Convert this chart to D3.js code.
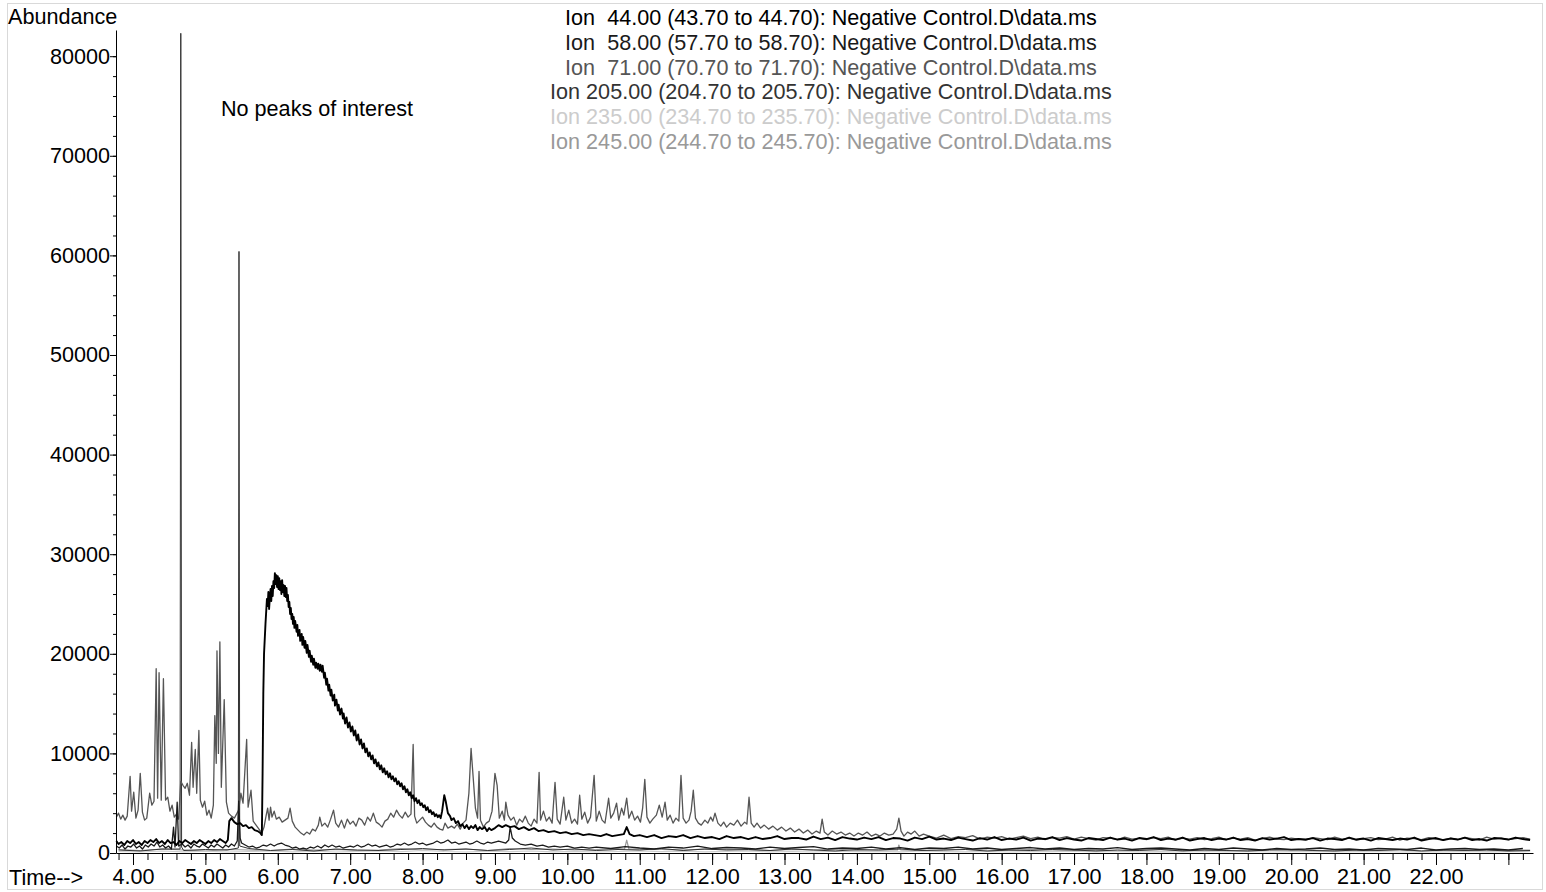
<!DOCTYPE html>
<html>
<head>
<meta charset="utf-8">
<script src="https://cdn.jsdelivr.net/npm/d3@7"></script>
<style>
  body { margin: 0; background: #fff; }
  text { font-family: "Liberation Sans", Arial, sans-serif; fill: #000; }
</style>
</head>
<body>
<svg id="chart" width="1546" height="892"></svg>
<script>
// ---- data ----
const ionLabels = [
  'Ion  44.00 (43.70 to 44.70): Negative Control.D\\data.ms',
  'Ion  58.00 (57.70 to 58.70): Negative Control.D\\data.ms',
  'Ion  71.00 (70.70 to 71.70): Negative Control.D\\data.ms',
  'Ion 205.00 (204.70 to 205.70): Negative Control.D\\data.ms',
  'Ion 235.00 (234.70 to 235.70): Negative Control.D\\data.ms',
  'Ion 245.00 (244.70 to 245.70): Negative Control.D\\data.ms'
]
const ionColors = ['#000000', '#1a1a1a', '#555555', '#333333', '#cccccc', '#999999']

const timeTicks = [4, 5, 6, 7, 8, 9, 10, 11, 12, 13, 14, 15, 16, 17, 18, 19, 20, 21, 22, 23]
const abundanceTicks = [0, 10000, 20000, 30000, 40000, 50000, 60000, 70000, 80000]

// ion 44: solvent hump
const ion44Head = [
  [3.77,1200],[3.80,900],[3.84,1100],[3.88,800],[3.92,1200],[3.96,1000],[4.00,1300],[4.04,900],
  [4.08,1100],[4.12,800],[4.16,1200],[4.20,1000],[4.24,1300],[4.28,1100],[4.32,1400],[4.36,1000],
  [4.40,1200],[4.44,900],[4.48,1300],[4.52,1000],[4.56,1100],[4.60,800],[4.64,1200],[4.68,1000],
  [4.72,1300],[4.76,1100],[4.80,900],[4.84,1200],[4.88,1000],[4.92,1300],[4.96,1100],[5.00,900],
  [5.04,1200],[5.08,1000],[5.12,1300],[5.16,1100],[5.20,1400],[5.24,1200],[5.28,1000],[5.31,1300],
  [5.33,3200],[5.36,3500],[5.40,3100],[5.44,2900],[5.48,3000],[5.52,2700],[5.56,2800],[5.60,2500],
  [5.64,2600],[5.68,2300],[5.72,2200],[5.76,2000],[5.78,1800],[5.79,8000],[5.80,16000],[5.81,20000],
  [5.83,23000],[5.85,25500],[5.86,24800],[5.87,26200],[5.88,24500],[5.89,25600],[5.90,26500],[5.91,25300],
  [5.92,26800],[5.93,25800],[5.94,27300],[5.95,26600],[5.96,28100],[5.97,27000],[5.98,27900],[5.99,26700],
  [6.00,27800],[6.01,26500],[6.02,27600],[6.03,26400],[6.04,27300],[6.05,26000],[6.06,27400],[6.07,26200],
  [6.08,26900],[6.09,25800],[6.10,26800],[6.11,25700],[6.12,26600],[6.13,25300],[6.14,25900],[6.15,24700],
  [6.16,25200],[6.17,24000],[6.18,24600],[6.19,23500],[6.20,24000],[6.21,23000],[6.22,23700],[6.23,22600],
  [6.24,23300],[6.26,22200],[6.27,22900],[6.28,21800],[6.30,22400],[6.31,21300],[6.33,22000],[6.34,20900],
  [6.35,21700],[6.37,20600],[6.38,21300],[6.40,20100],[6.41,20900],[6.43,19700],[6.44,20300],[6.46,19200],
  [6.47,19800],[6.49,18900],[6.50,19500],[6.52,18600],[6.53,19100],[6.55,18500],[6.56,19000],[6.58,18300],
  [6.59,18900],[6.61,18200],[6.62,18800],[6.64,17600],[6.65,18100],[6.67,16900],[6.68,17500],[6.70,16300],
  [6.71,16900],[6.73,15800],[6.74,16400],[6.76,15300],[6.78,15900],[6.79,14800],[6.81,15400],[6.83,14300],
  [6.84,14900],[6.86,13900],[6.88,14500],[6.90,13500],[6.91,14000],[6.93,13000],[6.95,13600],[6.97,12600],
  [6.99,13100],[7.01,12200],[7.03,12700],[7.05,11800],[7.07,12300],[7.09,11300],[7.11,11900],[7.13,10900],
  [7.15,11400],[7.17,10500],[7.19,11000],[7.21,10100],[7.23,10500],[7.25,9700],[7.27,10100],[7.29,9400],
  [7.31,9800],[7.33,9000],[7.35,9400],[7.37,8700],[7.39,9100],[7.41,8400],[7.43,8800],[7.45,8100],
  [7.47,8500],[7.49,7900],[7.51,8200],[7.53,7600],[7.55,8000],[7.57,7400],[7.59,7700],[7.61,7200],
  [7.63,7500],[7.65,6900],[7.67,7200],[7.69,6700],[7.71,7000],[7.73,6400],[7.75,6700],[7.77,6100],
  [7.79,6400],[7.81,5800],[7.83,6100],[7.85,5500],[7.87,5800],[7.89,5200],[7.91,5500],[7.93,5000],
  [7.95,5300],[7.97,4800],[7.99,5000],[8.01,4600],[8.03,4800],[8.05,4300],[8.07,4600],[8.09,4100],
  [8.11,4300],[8.13,3900],[8.15,4100],[8.17,3700],[8.19,3900],[8.21,3600],[8.23,3800],[8.25,3500],
  [8.27,4200],[8.30,5800],[8.32,5200],[8.35,4000],[8.38,3700],[8.40,3300],[8.43,3500],[8.46,3000],
  [8.49,3200],[8.52,2700],[8.55,2900],[8.58,2500],[8.61,2800],[8.64,2400],[8.67,2700],[8.70,2500],
  [8.73,2800],[8.76,2300],[8.79,2600],[8.82,2400],[8.86,2600],[8.89,2200],[8.92,2500],[8.95,2300],
  [9.00,2500],[9.05,2800],[9.10,2600],[9.15,2800],[9.21,2600],[9.27,2700],[9.33,2400],[9.40,2600],
  [9.47,2300],[9.54,2500],[9.60,2200],[9.67,2300],[9.74,2100],[9.82,2200],[9.90,2000],[9.98,2100],
  [10.06,1900],[10.14,2000],[10.22,1800],[10.30,1900],[10.38,1800],[10.46,1700],[10.54,1900],[10.62,1700],
  [10.70,1800],[10.78,1900],[10.82,2600],[10.86,1900],[10.92,1700],[11.00,1800],[11.10,1600],[11.20,1800],
  [11.30,1500],[11.40,1700],[11.50,1600],[11.60,1800],[11.70,1500],[11.80,1700],[11.90,1500],[12.00,1600],
  [12.10,1400],[12.20,1700],[12.30,1500],[12.40,1600],[12.50,1400],[12.60,1600],[12.70,1400],[12.80,1500],
  [12.90,1700],[13.00,1400],[13.10,1500]
]
const ion44TailStart = 13.2
const ion44Tail = [
  1500,1350,1650,1400,1550,1300,1600,1450,1350,1550,
  1400,1600,1300,1500,1450,1250,1550,1400,1650,1350,
  1450,1300,1550,1400,1250,1500,1350,1600,1300,1450,
  1350,1550,1250,1450,1400,1600,1300,1500,1350,1250,
  1500,1400,1300,1550,1350,1450,1250,1500,1400,1600,
  1300,1450,1350,1550,1250,1400,1500,1300,1450,1350,
  1550,1300,1400,1250,1500,1350,1450,1600,1300,1400,
  1350,1500,1250,1450,1400,1300,1550,1350,1450,1250,
  1500,1400,1300,1450,1350,1550,1250,1400,1500,1300,
  1450,1350,1550,1300,1400,1250,1500,1450,1350,1550,
  1400,1300
]

// ion 58: low dark baseline
const ion58Head = [
  [3.77,700],[3.81,500],[3.85,800],[3.89,400],[3.93,700],[3.97,600],[4.01,900],[4.05,500],
  [4.09,700],[4.13,400],[4.17,800],[4.21,600],[4.25,900],[4.29,700],[4.33,1100],[4.37,600],
  [4.41,800],[4.45,500],[4.49,700],[4.53,400],[4.56,2600],[4.58,600],[4.61,5100],[4.63,700],
  [4.68,900],[4.72,600],[4.76,800],[4.80,500],[4.84,900],[4.88,700],[4.92,600],[4.96,900],
  [5.00,700],[5.04,500],[5.08,800],[5.12,600],[5.16,900],[5.20,700],[5.24,500],[5.28,800],
  [5.32,600],[5.36,900],[5.40,700],[5.44,1200],[5.46,5200],[5.48,1500],[5.50,1000],[5.55,800],
  [5.60,600],[5.65,700],[5.70,500],[5.75,600],[5.80,800],[5.85,700],[5.90,900],[5.95,700],
  [6.00,900],[6.05,1000],[6.10,800],[6.15,700],[6.20,500],[6.25,600],[6.30,400],[6.35,500],
  [6.40,400],[6.45,600],[6.50,500],[6.55,700],[6.60,500],[6.65,800],[6.70,600],[6.75,800],
  [6.80,600],[6.85,700],[6.90,500],[6.95,600],[7.00,700],[7.05,600],[7.10,800],[7.15,600],
  [7.20,700],[7.25,900],[7.30,700],[7.35,800],[7.40,600],[7.45,700],[7.50,800],[7.55,600],
  [7.60,700],[7.65,900],[7.70,800],[7.75,1000],[7.80,800],[7.85,900],[7.90,1100],[7.95,900],
  [8.00,1000],[8.05,800],[8.10,900],[8.15,1000],[8.20,1200],[8.25,1000],[8.30,1100],[8.35,1300],
  [8.40,1000],[8.45,1100],[8.50,900],[8.55,1000],[8.60,1100],[8.65,900],[8.70,1000],[8.75,1200],
  [8.80,1000],[8.85,900],[8.90,1100],[8.95,1000],[9.00,1100],[9.05,1200],[9.10,1100],[9.15,1000],
  [9.19,1300],[9.21,2600],[9.24,1500],[9.28,1200],[9.35,900],[9.42,800],[9.50,900],[9.58,700],
  [9.66,800],[9.74,600],[9.82,700],[9.90,600],[10.00,700],[10.10,500],[10.20,600],[10.30,500]
]
const ion58TailStart = 10.4
const ion58Tail = [
  600,450,650,500,400,600,500,700,450,550,
  500,400,600,450,550,650,400,500,450,600,
  400,550,350,500,450,600,400,500,350,450,
  550,400,500,350,450,400,550,350,450,500,
  400,300,450,350,500,400,300,450,350,400,
  500,350,400,300,450,400,350,500,300,400,
  450,350,400,300,450
]

// ion 71: grey trace with most of the small peaks
const ion71Head = [
  [3.77,3600],[3.80,4000],[3.83,3400],[3.86,3800],[3.89,3300],[3.92,3700],[3.96,7700],[3.98,4200],
  [4.01,6100],[4.04,3500],[4.07,4300],[4.10,8000],[4.13,4100],[4.16,3300],[4.19,3500],[4.23,6000],
  [4.26,4800],[4.29,5200],[4.32,18500],[4.34,5500],[4.36,18100],[4.39,5300],[4.42,17500],[4.45,5300],
  [4.48,5600],[4.51,4200],[4.54,4800],[4.57,3600],[4.60,3900],[4.63,3400],[4.66,7200],[4.69,6800],
  [4.72,6500],[4.75,7000],[4.78,5800],[4.81,11100],[4.83,6600],[4.86,10400],[4.88,6000],[4.91,12300],
  [4.93,5300],[4.96,4600],[4.99,5200],[5.02,3800],[5.05,4300],[5.08,3500],[5.11,4800],[5.13,13800],
  [5.15,9000],[5.16,20300],[5.18,10000],[5.20,21200],[5.22,6600],[5.26,15400],[5.29,5100],[5.32,4000],
  [5.36,3700],[5.40,3500],[5.43,3900],[5.46,4300],[5.49,6000],[5.52,5000],[5.57,11400],[5.59,4600],
  [5.63,6300],[5.66,3200],[5.69,2900],[5.72,2600],[5.75,2300],[5.78,2000],[5.81,2600],[5.84,3800],
  [5.86,4500],[5.88,3300],[5.90,4600],[5.92,3600],[5.95,4200],[5.98,3400],[6.02,3600],[6.06,3100],
  [6.10,3300],[6.14,3500],[6.17,4500],[6.20,3200],[6.24,2600],[6.28,2300],[6.32,2000],[6.36,1800],
  [6.40,2100],[6.44,1900],[6.48,2400],[6.52,2200],[6.56,2800],[6.58,3600],[6.61,2700],[6.65,3000],
  [6.69,2600],[6.73,3400],[6.77,4300],[6.80,3000],[6.84,2600],[6.88,3300],[6.92,2500],[6.96,3400],
  [7.00,2900],[7.04,3200],[7.08,2700],[7.12,3500],[7.16,3300],[7.20,2800],[7.24,3600],[7.28,3200],
  [7.32,4000],[7.36,3100],[7.40,2900],[7.44,2600],[7.48,3200],[7.52,3400],[7.56,4000],[7.60,3600],
  [7.64,4300],[7.68,3800],[7.72,3500],[7.76,4100],[7.80,3600],[7.84,3900],[7.87,10900],[7.89,3700],
  [7.92,3000],[7.96,3300],[8.00,3600],[8.04,3100],[8.08,2800],[8.12,2600],[8.16,3000],[8.20,2600],
  [8.24,2400],[8.28,2300],[8.31,3000],[8.35,2500],[8.40,2700],[8.44,2500],[8.48,2900],[8.52,2400],
  [8.56,3000],[8.60,3300],[8.64,6000],[8.67,10500],[8.70,7500],[8.73,4500],[8.76,3500],[8.78,8200],
  [8.80,3300],[8.84,2600],[8.88,3000],[8.92,3200],[8.96,4200],[9.00,8000],[9.03,6800],[9.06,3500],
  [9.10,4200],[9.13,3300],[9.15,5100],[9.18,3800],[9.22,3300],[9.26,3600],[9.30,2800],[9.34,3400],
  [9.38,3100],[9.42,3700],[9.46,3000],[9.50,2700],[9.54,3400],[9.58,3000],[9.61,8100],[9.63,3300],
  [9.67,4200],[9.71,3200],[9.75,3600],[9.79,3000],[9.83,7100],[9.86,3400],[9.90,2900],[9.95,5600],
  [9.98,3300],[10.02,4300],[10.06,3000],[10.10,3400],[10.14,2900],[10.17,5800],[10.20,3400],[10.24,4100],
  [10.28,3000],[10.32,3600],[10.37,7800],[10.40,3200],[10.44,4200],[10.48,3300],[10.52,3000],[10.57,5500],
  [10.60,3500],[10.64,4000],[10.68,5000],[10.71,3300],[10.75,4500],[10.78,3800],[10.82,5500],[10.85,3500],
  [10.89,4200],[10.93,3300],[10.97,3700],[11.01,3100],[11.04,4500],[11.07,7400],[11.10,3600],[11.14,3000],
  [11.18,3400],[11.23,3800],[11.27,4800],[11.31,3600],[11.35,5100],[11.38,3300],[11.42,3800],[11.46,3000],
  [11.50,3500],[11.54,3200],[11.57,7800],[11.60,3500],[11.64,3000],[11.68,3300],[11.71,4200],[11.74,6300],
  [11.77,3500],[11.81,3000],[11.85,2800],[11.90,3300],[11.94,3000],[11.98,3600],[12.01,3200],[12.04,4000],
  [12.08,3000],[12.12,2700],[12.16,3100],[12.20,2600],[12.25,3000],[12.30,2800],[12.35,3300],[12.40,2700],
  [12.45,3100],[12.48,2900],[12.51,5600],[12.54,3000],[12.58,2600],[12.62,3000],[12.67,2500],[12.72,2800],
  [12.78,2400],[12.84,2700],[12.90,2300],[12.96,2600],[13.02,2200],[13.08,2500],[13.14,2100],[13.20,2400],
  [13.26,2000],[13.32,2300],[13.38,1900],[13.44,2200],[13.49,2000],[13.52,3400],[13.55,2100],[13.60,1800],
  [13.66,2200],[13.72,1900],[13.78,2100],[13.84,1800],[13.90,2000],[13.96,1700],[14.02,2000],[14.08,1800],
  [14.14,2100],[14.20,1700],[14.26,1900],[14.32,1700],[14.38,2000],[14.44,1800],[14.50,1900],[14.55,2400],
  [14.58,3500],[14.61,2200],[14.65,1700],[14.70,2100],[14.75,1900],[14.80,2200],[14.86,1700],[14.92,1900]
]
const ion71TailStart = 15.0
const ion71Tail = [
  1700,1500,1800,1450,1650,1550,1750,1400,1600,1500,
  1650,1400,1550,1700,1450,1600,1350,1550,1500,1650,
  1400,1600,1450,1300,1550,1500,1350,1600,1400,1500,
  1350,1550,1450,1600,1300,1500,1400,1550,1350,1450,
  1600,1350,1500,1400,1550,1300,1450,1600,1400,1350,
  1500,1400,1300,1550,1450,1350,1600,1400,1500,1300,
  1450,1550,1350,1400,1600,1300,1500,1450,1350,1550,
  1400,1300,1500,1350,1550,1450,1300,1600,1400,1500,
  1350,1450,1550,1400
]

// ion 205, 235, 245: near-zero baselines on a 0.3 min grid
const baseGridStart = 3.8
const ion205Base = [
  300,200,400,250,350,300,450,250,350,200,
  400,300,250,350,450,300,400,250,350,500,
  300,400,250,350,300,450,250,400,300,350,
  250,400,300,200,350,300,400,250,300,350,
  200,300,250,350,300,200,300,250,350,200,
  300,250,200,300,350,250,200,300,250,350,
  200,300,250,300,200,250
]
const ion205Peaks = [[4.650,400],[4.660,82300],[4.671,600],[5.455,500],[5.464,60400],[5.474,700]]
const ion235Base = [
  150,100,200,120,180,100,150,220,120,180,
  100,160,200,130,250,150,100,180,140,200,
  120,170,100,150,220,130,180,110,160,200,
  120,150,100,180,130,160,110,200,140,120,
  170,100,150,130,180,110,160,120,140,100,
  150,120,170,100,140,160,110,130,150,100,
  140,120,160,110,130,150
]
const ion245Base = [
  350,250,400,300,200,350,300,250,400,300,
  350,250,300,450,300,350,400,250,450,350,
  400,300,350,450,400,350,300,400,350,300,
  250,350,300,400,250,300,350,250,300,400,
  300,250,350,300,250,300,200,300,350,250,
  300,200,250,350,250,300,200,300,250,300,
  200,250,300,200,250,300
]
const ion245Peaks = [[10.79,400],[10.82,1300],[10.85,400],[14.56,300],[14.58,800],[14.61,300]]

// ---- helpers ----
function grid(start, step, values) {
  return values.map((v, i) => [start + i * step, v])
}
function merged(a, b) {
  return a.concat(b).sort((p, q) => p[0] - q[0])
}

const series = [
  { pts: merged(grid(baseGridStart, 0.3, ion245Base), ion245Peaks), color: ionColors[5], w: 1.2 },
  { pts: grid(baseGridStart, 0.3, ion235Base), color: ionColors[4], w: 1.2 },
  { pts: merged(grid(baseGridStart, 0.3, ion205Base), ion205Peaks), color: ionColors[3], w: 1 },
  { pts: ion71Head.concat(grid(ion71TailStart, 0.1, ion71Tail)), color: ionColors[2], w: 1.3 },
  { pts: ion58Head.concat(grid(ion58TailStart, 0.2, ion58Tail)), color: ionColors[1], w: 1.3 },
  { pts: ion44Head.concat(grid(ion44TailStart, 0.1, ion44Tail)), color: ionColors[0], w: 1.9 }
]

const fontSize = '21.6px'

// ---- drawing ----
const svg = d3.select('#chart')

svg.append('rect')
  .attr('x', 7.5).attr('y', 3.5)
  .attr('width', 1535).attr('height', 886)
  .attr('fill', 'none')
  .attr('stroke', '#d9d9d9')

const xScale = d3.scaleLinear().domain([3.765, 23.34]).range([116, 1533])
const yScale = d3.scaleLinear().domain([0, 82630]).range([853, 30])

const line = d3.line()
  .x(d => xScale(d[0]))
  .y(d => yScale(d[1]))

const traces = svg.append('g')
series.forEach(s => {
  traces.append('path')
    .datum(s.pts)
    .attr('d', line)
    .attr('fill', 'none')
    .attr('stroke', s.color)
    .attr('stroke-width', s.w)
    .attr('stroke-linejoin', 'round')
})

// x axis: minor every 0.2, major every 1.0
const xMinor = d3.range(19, 117).map(i => i / 5)
svg.append('g')
  .attr('transform', `translate(0, 853)`)
  .call(d3.axisBottom(xScale).tickValues(xMinor).tickSize(7).tickFormat(''))
  .call(g => g.select('.domain').remove())
const xAxis = svg.append('g')
  .attr('transform', `translate(0, 853)`)
  .call(d3.axisBottom(xScale)
    .tickValues(timeTicks)
    .tickSize(12).tickSizeOuter(0).tickPadding(4)
    .tickFormat(d => d < 23 ? d.toFixed(2) : ''))
xAxis.selectAll('text').style('font-size', fontSize)

// y axis: minor every 2000, major every 10000
const yMinor = d3.range(0, 41).map(i => i * 2000)
svg.append('g')
  .attr('transform', `translate(116, 0)`)
  .call(d3.axisLeft(yScale).tickValues(yMinor).tickSize(3).tickFormat(''))
  .call(g => g.select('.domain').remove())
const yAxis = svg.append('g')
  .attr('transform', `translate(116, 0)`)
  .call(d3.axisLeft(yScale)
    .tickValues(abundanceTicks)
    .tickSize(6).tickSizeOuter(0).tickPadding(0)
    .tickFormat(d3.format('d')))
yAxis.selectAll('text').style('font-size', fontSize)
svg.selectAll('.domain, .tick line').attr('stroke', '#000')

// axis titles
svg.append('text')
  .attr('x', 8).attr('y', 24)
  .style('font-size', fontSize)
  .text('Abundance')
svg.append('text')
  .attr('x', 9).attr('y', 885)
  .style('font-size', fontSize)
  .text('Time-->')

// annotation
svg.append('text')
  .attr('x', 221).attr('y', 116)
  .style('font-size', fontSize)
  .text('No peaks of interest')

// legend
svg.selectAll('.legend')
  .data(ionLabels)
  .enter()
  .append('text')
  .attr('class', 'legend')
  .attr('x', 831)
  .attr('y', (d, i) => 25 + i * 24.8)
  .attr('text-anchor', 'middle')
  .style('font-size', fontSize)
  .style('white-space', 'pre')
  .style('fill', (d, i) => ionColors[i])
  .text(d => d)
</script>
</body>
</html>
